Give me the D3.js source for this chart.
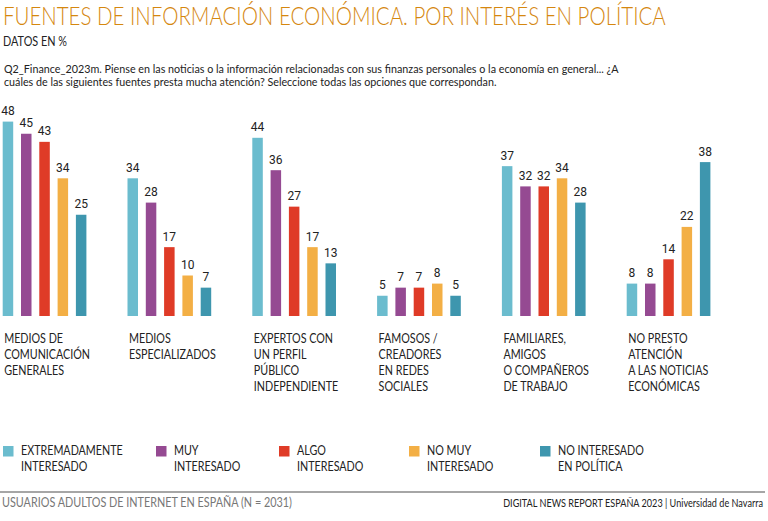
<!DOCTYPE html>
<html><head><meta charset="utf-8">
<script src="https://cdn.jsdelivr.net/npm/d3@7"></script>
<style>
html,body{margin:0;padding:0;background:#fff;}
svg{display:block;}
.cond{font-family:Lato,"Open Sans",sans-serif;}
</style></head>
<body><svg id="chart" width="768" height="521"></svg>
<script>
const categories = [
  ["MEDIOS DE","COMUNICACIÓN","GENERALES"],
  ["MEDIOS","ESPECIALIZADOS"],
  ["EXPERTOS CON","UN PERFIL","PÚBLICO","INDEPENDIENTE"],
  ["FAMOSOS /","CREADORES","EN REDES","SOCIALES"],
  ["FAMILIARES,","AMIGOS","O COMPAÑEROS","DE TRABAJO"],
  ["NO PRESTO","ATENCIÓN","A LAS NOTICIAS","ECONÓMICAS"]
];
const seriesNames = [
  ["EXTREMADAMENTE","INTERESADO"],
  ["MUY","INTERESADO"],
  ["ALGO","INTERESADO"],
  ["NO MUY","INTERESADO"],
  ["NO INTERESADO","EN POLÍTICA"]
];
const extremadamente = [48, 34, 44, 5, 37, 8];
const muy            = [45, 28, 36, 7, 32, 8];
const algo           = [43, 17, 27, 7, 32, 14];
const noMuy          = [34, 10, 17, 8, 34, 22];
const noInteresado   = [25, 7, 13, 5, 28, 38];
const seriesValues = [extremadamente, muy, algo, noMuy, noInteresado];
const colors = ["#6BBCCE", "#954A92", "#DF3B27", "#F3AF45", "#3E96AE"];

const title = "FUENTES DE INFORMACIÓN ECONÓMICA. POR INTERÉS EN POLÍTICA";
const subtitle = "DATOS EN %";
const question = [
  "Q2_Finance_2023m. Piense en las noticias o la información relacionadas con sus finanzas personales o la economía en general... ¿A",
  "cuáles de las siguientes fuentes presta mucha atención? Seleccione todas las opciones que correspondan."
];
const footerLeft = "USUARIOS ADULTOS DE INTERNET EN ESPAÑA (N = 2031)";
const footerRight = "DIGITAL NEWS REPORT ESPAÑA 2023 | Universidad de Navarra";

const svg = d3.select("#chart");
const catIdx = d3.range(categories.length);
const serIdx = d3.range(seriesNames.length);

const x0 = d3.scaleBand().domain(catIdx).range([2.7, 2.7 + 124.8 * 6]).paddingInner(0).paddingOuter(0);
const x1 = d3.scaleBand().domain(serIdx).range([0, 83.7]).paddingInner(0.426).paddingOuter(0);
const y = d3.scaleLinear().domain([0, 50]).range([316, 113.5]);

// horizontal squeeze helper (condensed look)
function squeezeTo(sel, targetW, ax) {
  const w = sel.node().getComputedTextLength();
  const k = targetW / w;
  sel.attr("transform", `translate(${ax},0) scale(${k},1) translate(${-ax},0)`);
  return k;
}
function squeezeBy(sel, k, ax) {
  sel.attr("transform", `translate(${ax},0) scale(${k},1) translate(${-ax},0)`);
}

// Title
const tt = svg.append("text").attr("class","cond").attr("x",3).attr("y",25.5)
  .attr("fill","#D5870F").attr("font-size",25).attr("font-weight",300).text(title);
squeezeTo(tt, 663, 3);
const st = svg.append("text").attr("class","cond").attr("x",3).attr("y",46)
  .attr("fill","#222").attr("font-size",12.5).text(subtitle);
squeezeTo(st, 64, 3);
const qLens = [615, 493];
question.forEach((q,i)=>{
  const t = svg.append("text").attr("class","cond").attr("x",4).attr("y",73.5 + i*12.5)
    .attr("fill","#222").attr("font-size",11).text(q);
  squeezeTo(t, qLens[i], 4);
});

// Bars
const groups = svg.append("g").selectAll("g").data(catIdx).join("g")
  .attr("transform", c => `translate(${x0(c)},0)`);
groups.selectAll("rect").data(c => serIdx.map(s => ({s, v: seriesValues[s][c]}))).join("rect")
  .attr("x", d => x1(d.s)).attr("width", x1.bandwidth())
  .attr("y", d => y(d.v)).attr("height", d => y(0) - y(d.v))
  .attr("fill", d => colors[d.s]);
groups.selectAll("text.val").data(c => serIdx.map(s => ({s, v: seriesValues[s][c]}))).join("text")
  .attr("class","val")
  .attr("x", d => x1(d.s) + x1.bandwidth()/2).attr("y", d => y(d.v) - 6.5)
  .attr("text-anchor","middle").attr("font-family","Roboto, sans-serif").attr("font-size",12)
  .attr("fill","#222").text(d => d.v);

// measure condensing factor for labels
const probe = svg.append("text").attr("class","cond").attr("font-size",13).text("COMUNICACIÓN");
const kLab = 86 / probe.node().getComputedTextLength();
probe.remove();

// Category labels
categories.forEach((lines,c)=>{
  const lx = x0(c) + 1.5;
  const t = svg.append("text").attr("class","cond").attr("x", lx).attr("y", 343)
    .attr("fill","#222").attr("font-size",13);
  lines.forEach((l,i)=> t.append("tspan").attr("x", lx).attr("y", 343 + i*16).text(l));
  squeezeBy(t, kLab, lx);
});

// Legend
const legendX = [3, 156, 279, 409, 540];
seriesNames.forEach((lines,s)=>{
  svg.append("rect").attr("x",legendX[s]).attr("y",446).attr("width",10.5).attr("height",10.5).attr("fill",colors[s]);
  const lx = legendX[s] + 18;
  const t = svg.append("text").attr("class","cond").attr("fill","#222").attr("font-size",13);
  lines.forEach((l,i)=> t.append("tspan").attr("x", lx).attr("y", 455 + i*16).text(l));
  squeezeBy(t, kLab, lx);
});

// Footer
svg.append("line").attr("x1",0).attr("x2",765).attr("y1",492).attr("y2",492)
  .attr("stroke","#888").attr("stroke-width",1.5);
const fl = svg.append("text").attr("class","cond").attr("x",2).attr("y",507)
  .attr("fill","#777").attr("font-size",12.5).text(footerLeft);
squeezeTo(fl, 290, 2);
const fr = svg.append("text").attr("class","cond").attr("x",763).attr("y",507)
  .attr("text-anchor","end").attr("fill","#222").attr("font-size",11).text(footerRight);
squeezeTo(fr, 260, 763);
</script></body></html>
